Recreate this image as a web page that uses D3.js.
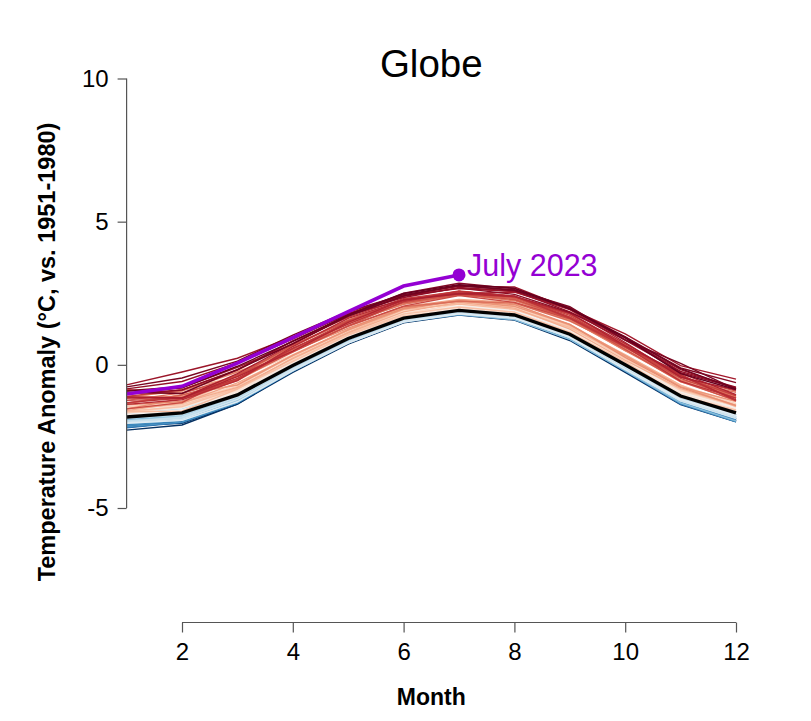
<!DOCTYPE html>
<html>
<head>
<meta charset="utf-8">
<script src="https://cdn.jsdelivr.net/npm/d3@7"></script>
<style>
  body { margin: 0; background: #fff; }
  svg { font-family: "Liberation Sans", Arial, sans-serif; }
</style>
</head>
<body>
<svg width="811" height="721"></svg>
<script>
// months on the x axis
var months = [1, 2, 3, 4, 5, 6, 7, 8, 9, 10, 11, 12];
var xTicks = [2, 4, 6, 8, 10, 12];
var yTicks = [-5, 0, 5, 10];

// 1951-1980 mean seasonal cycle (black line)
var climatology = [-1.82, -1.68, -1.05, -0.02, 0.92, 1.63, 1.90, 1.74, 1.07, 0.00, -1.09, -1.68];

// 2023 so far (purple line)
var values2023 = [-1.02, -0.75, 0.06, 0.95, 1.86, 2.75, 3.14];

// one row per year, 1940..2022: departure of each month from the climatology line
var years = d3.range(1940, 2023);
var yearAnomaly = [
  [-0.46,-0.42,-0.32,-0.24,-0.20,-0.16,-0.16,-0.18,-0.22,-0.26,-0.30,-0.31],
  [-0.30,-0.36,-0.32,-0.20,-0.15,-0.12,-0.10,-0.12,-0.14,-0.18,-0.24,-0.28],
  [-0.36,-0.32,-0.28,-0.20,-0.14,-0.12,-0.13,-0.15,-0.14,-0.18,-0.22,-0.27],
  [-0.28,-0.32,-0.22,-0.15,-0.10,-0.08,-0.10,-0.10,-0.12,-0.14,-0.18,-0.22],
  [-0.20,-0.24,-0.20,-0.12,-0.08,-0.06,-0.05,-0.08,-0.06,-0.10,-0.14,-0.20],
  [-0.24,-0.28,-0.24,-0.14,-0.10,-0.10,-0.08,-0.06,-0.10,-0.14,-0.22,-0.28],
  [-0.26,-0.22,-0.28,-0.16,-0.12,-0.12,-0.14,-0.16,-0.14,-0.18,-0.20,-0.26],
  [-0.22,-0.30,-0.18,-0.10,-0.12,-0.10,-0.08,-0.10,-0.12,-0.10,-0.16,-0.22],
  [-0.28,-0.26,-0.22,-0.14,-0.10,-0.12,-0.10,-0.12,-0.14,-0.16,-0.18,-0.24],
  [-0.30,-0.28,-0.26,-0.18,-0.14,-0.12,-0.12,-0.14,-0.16,-0.20,-0.24,-0.28],
  [-0.38,-0.34,-0.28,-0.20,-0.16,-0.14,-0.14,-0.16,-0.18,-0.22,-0.28,-0.30],
  [-0.28,-0.26,-0.20,-0.12,-0.08,-0.06,-0.06,-0.08,-0.06,-0.10,-0.14,-0.20],
  [-0.20,-0.16,-0.14,-0.08,-0.06,-0.06,-0.04,-0.06,-0.08,-0.12,-0.16,-0.18],
  [-0.12,-0.14,-0.10,-0.02,-0.02,-0.04,-0.02,-0.04,-0.06,-0.06,-0.10,-0.14],
  [-0.26,-0.22,-0.18,-0.14,-0.12,-0.10,-0.12,-0.14,-0.14,-0.16,-0.20,-0.24],
  [-0.30,-0.26,-0.24,-0.18,-0.14,-0.12,-0.12,-0.14,-0.16,-0.20,-0.26,-0.30],
  [-0.34,-0.32,-0.28,-0.18,-0.14,-0.12,-0.12,-0.14,-0.16,-0.20,-0.24,-0.30],
  [-0.16,-0.12,-0.10,-0.04,-0.02,-0.02, 0.00, 0.00,-0.02,-0.04,-0.06,-0.08],
  [ 0.02,-0.02,-0.04,-0.02, 0.00,-0.02,-0.02,-0.04,-0.04,-0.02,-0.04,-0.06],
  [-0.08,-0.10,-0.06,-0.04,-0.04,-0.04,-0.02,-0.04,-0.06,-0.08,-0.10,-0.08],
  [-0.14,-0.18,-0.14,-0.08,-0.06,-0.04,-0.04,-0.04,-0.06,-0.08,-0.12,-0.14],
  [-0.02, 0.00,-0.02, 0.00, 0.00,-0.02,-0.02,-0.02,-0.02,-0.04,-0.06,-0.10],
  [-0.06,-0.04,-0.08,-0.04,-0.02,-0.02,-0.04,-0.04,-0.04,-0.04,-0.06,-0.08],
  [-0.04,-0.08,-0.04,-0.02,-0.04,-0.02, 0.00, 0.02, 0.02, 0.02,-0.02,-0.06],
  [-0.22,-0.26,-0.24,-0.20,-0.16,-0.14,-0.14,-0.16,-0.18,-0.20,-0.24,-0.28],
  [-0.20,-0.18,-0.20,-0.16,-0.14,-0.12,-0.10,-0.10,-0.12,-0.12,-0.16,-0.18],
  [-0.14,-0.12,-0.10,-0.08,-0.08,-0.06,-0.06,-0.08,-0.10,-0.10,-0.14,-0.16],
  [-0.12,-0.14,-0.08,-0.06,-0.04,-0.06,-0.06,-0.06,-0.08,-0.06,-0.10,-0.14],
  [-0.18,-0.16,-0.10,-0.10,-0.10,-0.08,-0.10,-0.10,-0.08,-0.08,-0.12,-0.14],
  [-0.06,-0.08,-0.02, 0.02, 0.02, 0.02, 0.02, 0.02, 0.02, 0.02, 0.06, 0.04],
  [ 0.02, 0.00,-0.04,-0.02,-0.02,-0.02,-0.02,-0.04,-0.04,-0.04,-0.06,-0.08],
  [-0.14,-0.18,-0.16,-0.14,-0.12,-0.12,-0.12,-0.10,-0.12,-0.14,-0.16,-0.18],
  [-0.18,-0.14,-0.08,-0.04,-0.02, 0.00, 0.02, 0.02, 0.02, 0.06, 0.04, 0.06],
  [ 0.12, 0.14, 0.12, 0.10, 0.08, 0.06, 0.06, 0.04, 0.02, 0.00,-0.04,-0.08],
  [-0.20,-0.22,-0.16,-0.12,-0.12,-0.10,-0.10,-0.10,-0.12,-0.16,-0.18,-0.20],
  [ 0.00,-0.02,-0.04,-0.04,-0.02,-0.04,-0.04,-0.06,-0.06,-0.08,-0.12,-0.14],
  [-0.22,-0.26,-0.24,-0.18,-0.16,-0.14,-0.12,-0.12,-0.10,-0.16,-0.12,-0.08],
  [ 0.02, 0.08, 0.12, 0.12, 0.12, 0.10, 0.08, 0.06, 0.04, 0.04, 0.08, 0.04],
  [ 0.06, 0.02, 0.04, 0.04, 0.04, 0.02, 0.00,-0.02, 0.02, 0.02, 0.06, 0.06],
  [ 0.02,-0.04, 0.06, 0.06, 0.06, 0.06, 0.06, 0.08, 0.10, 0.12, 0.16, 0.22],
  [ 0.16, 0.20, 0.14, 0.16, 0.18, 0.14, 0.14, 0.12, 0.12, 0.12, 0.14, 0.12],
  [ 0.28, 0.24, 0.22, 0.20, 0.16, 0.14, 0.14, 0.16, 0.12, 0.08, 0.10, 0.18],
  [ 0.00, 0.04, 0.00, 0.04, 0.06, 0.06, 0.06, 0.04, 0.06, 0.08, 0.10, 0.20],
  [ 0.32, 0.30, 0.26, 0.20, 0.20, 0.18, 0.16, 0.20, 0.18, 0.14, 0.20, 0.10],
  [ 0.14, 0.08, 0.10, 0.06, 0.12, 0.06, 0.08, 0.10, 0.10, 0.10, 0.04, 0.00],
  [ 0.06, 0.02, 0.08, 0.08, 0.08, 0.06, 0.04, 0.08, 0.06, 0.08, 0.06, 0.08],
  [ 0.16, 0.20, 0.14, 0.14, 0.12, 0.10, 0.08, 0.10, 0.08, 0.10, 0.10, 0.12],
  [ 0.18, 0.24, 0.16, 0.18, 0.20, 0.24, 0.30, 0.26, 0.28, 0.24, 0.22, 0.32],
  [ 0.36, 0.30, 0.36, 0.30, 0.28, 0.28, 0.26, 0.26, 0.26, 0.24, 0.20, 0.24],
  [ 0.14, 0.24, 0.22, 0.20, 0.16, 0.16, 0.22, 0.24, 0.24, 0.22, 0.18, 0.24],
  [ 0.30, 0.32, 0.56, 0.38, 0.30, 0.28, 0.26, 0.30, 0.22, 0.34, 0.38, 0.32],
  [ 0.36, 0.38, 0.30, 0.34, 0.28, 0.34, 0.32, 0.32, 0.26, 0.22, 0.22, 0.24],
  [ 0.30, 0.28, 0.24, 0.14, 0.12, 0.08, 0.00, 0.02,-0.02, 0.00,-0.04, 0.10],
  [ 0.20, 0.22, 0.22, 0.14, 0.14, 0.14, 0.12, 0.10, 0.06, 0.10, 0.00, 0.10],
  [ 0.18, 0.06, 0.20, 0.26, 0.22, 0.30, 0.22, 0.20, 0.24, 0.30, 0.34, 0.26],
  [ 0.46, 0.62, 0.36, 0.34, 0.28, 0.36, 0.36, 0.38, 0.30, 0.36, 0.38, 0.22],
  [ 0.22, 0.36, 0.26, 0.24, 0.20, 0.22, 0.28, 0.24, 0.18, 0.16, 0.26, 0.26],
  [ 0.28, 0.34, 0.42, 0.34, 0.32, 0.40, 0.38, 0.44, 0.48, 0.56, 0.54, 0.56],
  [ 0.66, 0.82, 0.64, 0.66, 0.64, 0.62, 0.66, 0.64, 0.50, 0.52, 0.50, 0.58],
  [ 0.48, 0.64, 0.34, 0.36, 0.30, 0.32, 0.34, 0.30, 0.34, 0.32, 0.32, 0.40],
  [ 0.28, 0.50, 0.50, 0.50, 0.36, 0.34, 0.34, 0.36, 0.34, 0.26, 0.30, 0.26],
  [ 0.42, 0.40, 0.54, 0.50, 0.52, 0.50, 0.56, 0.54, 0.50, 0.50, 0.68, 0.56],
  [ 0.70, 0.76, 0.80, 0.56, 0.56, 0.54, 0.56, 0.50, 0.54, 0.50, 0.54, 0.42],
  [ 0.70, 0.56, 0.54, 0.54, 0.56, 0.48, 0.54, 0.62, 0.60, 0.70, 0.56, 0.72],
  [ 0.58, 0.70, 0.56, 0.58, 0.42, 0.40, 0.32, 0.42, 0.46, 0.60, 0.68, 0.52],
  [ 0.68, 0.54, 0.70, 0.68, 0.64, 0.64, 0.62, 0.58, 0.70, 0.68, 0.70, 0.62],
  [ 0.48, 0.62, 0.54, 0.46, 0.44, 0.58, 0.54, 0.60, 0.56, 0.66, 0.66, 0.76],
  [ 0.96, 0.68, 0.66, 0.72, 0.62, 0.54, 0.56, 0.54, 0.56, 0.54, 0.50, 0.44],
  [ 0.28, 0.36, 0.70, 0.48, 0.44, 0.42, 0.52, 0.44, 0.54, 0.62, 0.62, 0.52],
  [ 0.58, 0.50, 0.52, 0.58, 0.60, 0.62, 0.68, 0.64, 0.66, 0.64, 0.68, 0.60],
  [ 0.72, 0.80, 0.86, 0.84, 0.74, 0.68, 0.66, 0.66, 0.60, 0.66, 0.76, 0.42],
  [ 0.50, 0.52, 0.58, 0.60, 0.50, 0.58, 0.66, 0.66, 0.56, 0.64, 0.52, 0.52],
  [ 0.44, 0.46, 0.50, 0.66, 0.70, 0.62, 0.58, 0.64, 0.72, 0.74, 0.72, 0.46],
  [ 0.66, 0.52, 0.64, 0.50, 0.56, 0.64, 0.60, 0.66, 0.74, 0.66, 0.80, 0.64],
  [ 0.70, 0.52, 0.74, 0.76, 0.82, 0.64, 0.58, 0.80, 0.86, 0.78, 0.66, 0.80],
  [ 0.82, 0.88, 0.96, 0.74, 0.80, 0.80, 0.76, 0.82, 0.88, 1.08, 1.06, 1.18],
  [ 1.12, 1.43, 1.28, 1.00, 0.92, 0.80, 0.84, 0.98, 0.88, 0.88, 0.92, 0.86],
  [ 0.98, 1.10, 1.12, 0.92, 0.88, 0.72, 0.80, 0.84, 0.78, 0.86, 0.86, 0.90],
  [ 0.80, 0.80, 0.88, 0.86, 0.78, 0.76, 0.78, 0.72, 0.76, 0.98, 0.82, 0.88],
  [ 0.92, 0.92, 1.14, 0.98, 0.84, 0.87, 0.95, 0.92, 0.92, 0.98, 0.98, 1.06],
  [ 1.05, 1.22, 1.18, 1.06, 0.95, 0.82, 0.86, 0.88, 0.96, 0.86, 1.14, 0.82],
  [ 0.86, 0.68, 0.88, 0.76, 0.78, 0.78, 0.88, 0.86, 0.90, 0.96, 0.96, 0.84],
  [ 0.90, 0.88, 1.00, 0.84, 0.82, 0.86, 0.90, 0.94, 0.88, 0.94, 0.78, 0.82]
];

var svg = d3.select("svg");

var x = d3.scaleLinear().domain([1, 12]).range([126.6, 736]);
var y = d3.scaleLinear().domain([-5, 10]).range([508, 78.5]);

var line = d3.line()
    .x(function (d, i) { return x(months[i]); })
    .y(function (d) { return y(d); });

var color = d3.scaleSequential(function (t) { return d3.interpolateRdBu(1 - t); })
    .domain([years[0], years[years.length - 1]]);

// every year as a thin line, oldest first so the recent ones sit on top
svg.append("g")
  .selectAll("path")
  .data(years)
  .enter().append("path")
    .attr("d", function (yr, k) {
      return line(yearAnomaly[k].map(function (a, i) { return climatology[i] + a; }));
    })
    .attr("fill", "none")
    .attr("stroke", function (yr) { return color(yr); })
    .attr("stroke-width", 1.4);

// baseline mean
svg.append("path")
    .attr("d", line(climatology))
    .attr("fill", "none")
    .attr("stroke", "#000")
    .attr("stroke-width", 3.4);

// 2023
var purple = "#9400d3";
svg.append("path")
    .attr("d", line(values2023))
    .attr("fill", "none")
    .attr("stroke", purple)
    .attr("stroke-width", 3.6);

var last = values2023.length - 1;
svg.append("circle")
    .attr("cx", x(months[last]))
    .attr("cy", y(values2023[last]))
    .attr("r", 6.5)
    .attr("fill", purple);

svg.append("text")
    .attr("x", x(months[last]) + 8)
    .attr("y", y(values2023[last]) + 1)
    .attr("fill", purple)
    .style("font-size", "30.5px")
    .text("July 2023");

// axes, R style: lines only span the tick range
var yAxis = svg.append("g")
    .attr("transform", "translate(126.6,0)")
    .call(d3.axisLeft(y).tickValues(yTicks).tickSize(9).tickPadding(9)
      .tickFormat(function (d) { return String(d); }));
var xAxis = svg.append("g")
    .attr("transform", "translate(0,622.5)")
    .call(d3.axisBottom(x).tickValues(xTicks).tickSize(10).tickPadding(10));

[yAxis, xAxis].forEach(function (ax) {
  ax.select(".domain").attr("stroke", "#555").attr("stroke-width", 1.2);
  ax.selectAll(".tick line").attr("stroke", "#555").attr("stroke-width", 1.2);
  ax.selectAll(".tick text")
    .attr("fill", "#000")
    .style("font-family", "Liberation Sans, Arial, sans-serif")
    .style("font-size", "24px");
});
// trim domain lines to the tick range, no end caps
yAxis.select(".domain").attr("d", "M-0," + y(10) + "V" + y(-5));
xAxis.select(".domain").attr("d", "M" + x(2) + ",0H" + x(12));

// title and axis labels
svg.append("text")
    .attr("x", x(6.5))
    .attr("y", 77)
    .attr("text-anchor", "middle")
    .style("font-size", "38.5px")
    .text("Globe");

svg.append("text")
    .attr("x", x(6.5))
    .attr("y", 705)
    .attr("text-anchor", "middle")
    .style("font-size", "23px")
    .style("font-weight", "bold")
    .text("Month");

svg.append("text")
    .attr("transform", "translate(55,352) rotate(-90)")
    .attr("text-anchor", "middle")
    .style("font-size", "23.5px")
    .style("font-weight", "bold")
    .text("Temperature Anomaly (°C, vs. 1951-1980)");
</script>
</body>
</html>
